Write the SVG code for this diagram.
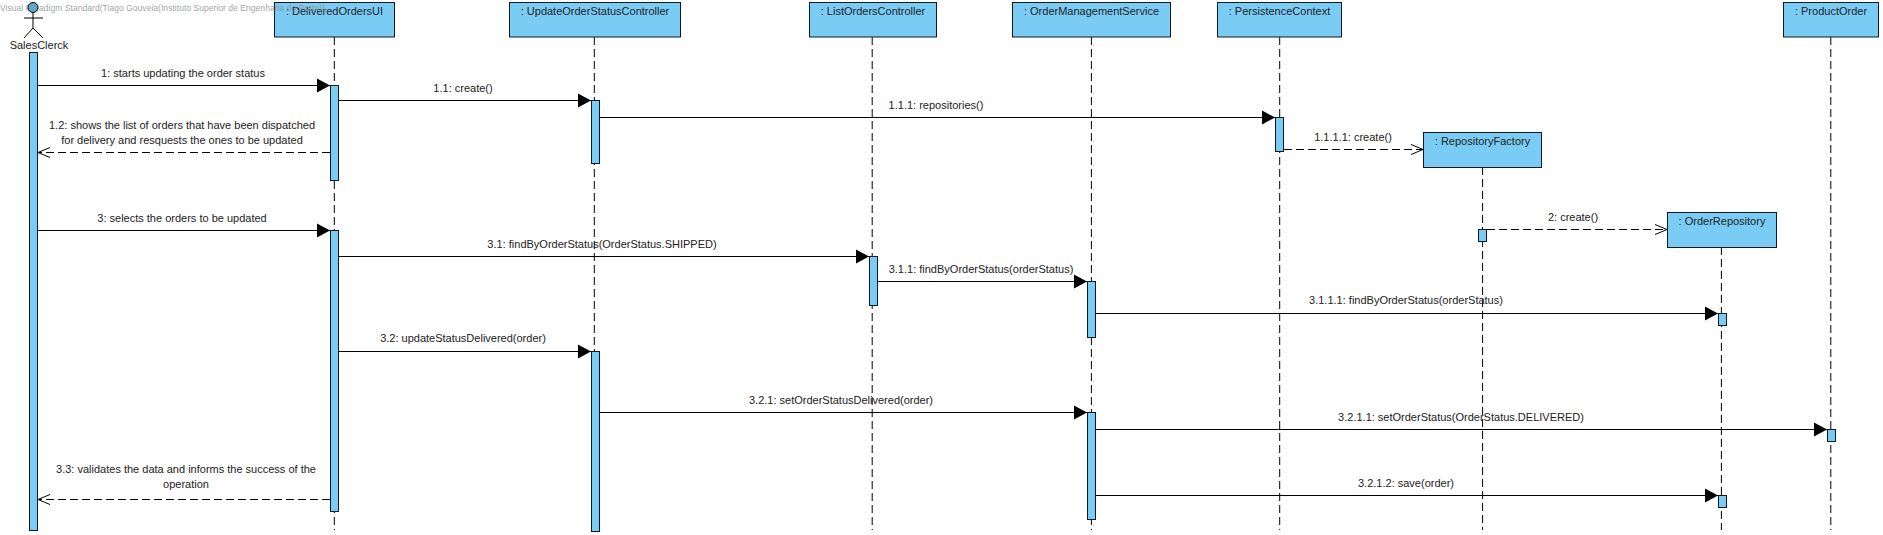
<svg xmlns="http://www.w3.org/2000/svg" width="1883" height="535" viewBox="0 0 1883 535">
<defs>
<marker id="filled" markerUnits="userSpaceOnUse" markerWidth="15" markerHeight="15" refX="13" refY="7.5" orient="auto"><path d="M0 0.5L13 7.5L0 14.5Z" fill="#000"/></marker>
<marker id="open" markerUnits="userSpaceOnUse" markerWidth="14" markerHeight="14" refX="13" refY="7" orient="auto"><path d="M1 2L13 7L1 12" fill="none" stroke="#000"/></marker>
</defs>
<style>
text{font-family:"Liberation Sans",Arial,sans-serif;font-size:11px;fill:#222;text-anchor:middle}
.wm{font-size:8.6px;fill:#8a8a8a;text-anchor:start;fill-opacity:.8}
.box,.act{fill:#7accf5;stroke:#0c1a22;stroke-width:1}
.life{stroke:#000;stroke-width:1;stroke-dasharray:8 4;fill:none}
.msg{stroke:#000;stroke-width:1;fill:none;marker-end:url(#filled)}
.ret{stroke:#000;stroke-width:1;stroke-dasharray:8 4;fill:none;marker-end:url(#open)}
.actor{stroke:#000;stroke-width:1;fill:none}
</style>
<rect width="1883" height="535" fill="#fff"/>
<g id="lifelines">
<path class="life" d="M334.3 37V530"/>
<path class="life" d="M594.3 37V530"/>
<path class="life" d="M872.2 37V530"/>
<path class="life" d="M1091.4 37V530"/>
<path class="life" d="M1279.7 37V530"/>
<path class="life" d="M1482.6 167V530"/>
<path class="life" d="M1721.4 247V530"/>
<path class="life" d="M1830.8 37V530"/>
</g>
<g id="node-deliveredordersui">
<rect class="box" x="274.5" y="2.5" width="120" height="34.5"/>
<text x="334.5" y="14.5">: DeliveredOrdersUI</text>
<rect class="act" x="330.5" y="85.5" width="8" height="95"/>
<rect class="act" x="330.5" y="230.5" width="8" height="281"/>
</g>
<text class="wm" x="0" y="10.5">Visual Paradigm Standard(Tiago Gouveia(Instituto Superior de Engenharia do Porto))</text>
<g id="actor-salesclerck">
<circle cx="33" cy="7.5" r="5" fill="#5fa9c4" stroke="#000"/>
<path class="actor" d="M33 12.5V28M24 18H43M24 38L33 28L43 38"/>
<text x="39" y="49">SalesClerck</text>
<rect class="act" x="29.5" y="52.5" width="8" height="478"/>
</g>
<g id="node-updateorderstatuscontroller">
<rect class="box" x="509.5" y="2.5" width="171" height="34.5"/>
<text x="595" y="14.5">: UpdateOrderStatusController</text>
<rect class="act" x="591.5" y="100.5" width="8" height="63"/>
<rect class="act" x="591.5" y="351.5" width="8" height="180"/>
</g>
<g id="node-listorderscontroller">
<rect class="box" x="809.5" y="2.5" width="127" height="34.5"/>
<text x="873" y="14.5">: ListOrdersController</text>
<rect class="act" x="869.5" y="256.5" width="8" height="49"/>
</g>
<g id="node-ordermanagementservice">
<rect class="box" x="1012.5" y="2.5" width="158" height="34.5"/>
<text x="1091.5" y="14.5">: OrderManagementService</text>
<rect class="act" x="1087.5" y="281.5" width="8" height="56"/>
<rect class="act" x="1087.5" y="412.5" width="8" height="107"/>
</g>
<g id="node-persistencecontext">
<rect class="box" x="1217.5" y="2.5" width="124" height="34.5"/>
<text x="1279.5" y="14.5">: PersistenceContext</text>
<rect class="act" x="1275.5" y="117.5" width="8" height="34"/>
</g>
<g id="node-repositoryfactory">
<rect class="box" x="1423.5" y="132.5" width="118" height="35"/>
<text x="1482.5" y="144.5">: RepositoryFactory</text>
<rect class="act" x="1478.5" y="229.5" width="8" height="12"/>
</g>
<g id="node-orderrepository">
<rect class="box" x="1667.5" y="212.5" width="109" height="35"/>
<text x="1722" y="224.5">: OrderRepository</text>
<rect class="act" x="1718.5" y="313.5" width="8" height="12"/>
<rect class="act" x="1718.5" y="495.5" width="8" height="12"/>
</g>
<g id="node-productorder">
<rect class="box" x="1783.5" y="2.5" width="95" height="34.5"/>
<text x="1831" y="14.5">: ProductOrder</text>
<rect class="act" x="1827.5" y="429.5" width="8" height="12"/>
</g>
<g id="connectors">
<path class="msg" d="M38 85.5H330"/>
<path class="msg" d="M339 100.5H591"/>
<path class="msg" d="M600 117.5H1275"/>
<path class="ret" d="M1284 149.5H1423"/>
<path class="ret" d="M330 152.5H38"/>
<path class="ret" d="M1487 229.5H1667"/>
<path class="msg" d="M38 230.5H330"/>
<path class="msg" d="M339 256.5H869"/>
<path class="msg" d="M878 281.5H1087"/>
<path class="msg" d="M1096 313.5H1718"/>
<path class="msg" d="M339 351.5H591"/>
<path class="msg" d="M600 412.5H1087"/>
<path class="msg" d="M1096 429.5H1827"/>
<path class="msg" d="M1096 495.5H1718"/>
<path class="ret" d="M330 499.5H38"/>
</g>
<g id="labels">
<text x="183" y="77">1: starts updating the order status</text>
<text x="463" y="92">1.1: create()</text>
<text x="936" y="109">1.1.1: repositories()</text>
<text x="1353" y="141">1.1.1.1: create()</text>
<text x="182" y="129">1.2: shows the list of orders that have been dispatched</text>
<text x="182" y="144">for delivery and resquests the ones to be updated</text>
<text x="1573" y="221">2: create()</text>
<text x="182" y="222">3: selects the orders to be updated</text>
<text x="602" y="248">3.1: findByOrderStatus(OrderStatus.SHIPPED)</text>
<text x="981" y="273">3.1.1: findByOrderStatus(orderStatus)</text>
<text x="1406" y="304">3.1.1.1: findByOrderStatus(orderStatus)</text>
<text x="463" y="342">3.2: updateStatusDelivered(order)</text>
<text x="841" y="404">3.2.1: setOrderStatusDelivered(order)</text>
<text x="1461" y="421">3.2.1.1: setOrderStatus(OrderStatus.DELIVERED)</text>
<text x="1406" y="487">3.2.1.2: save(order)</text>
<text x="186" y="473">3.3: validates the data and informs the success of the</text>
<text x="186" y="488">operation</text>
</g>
</svg>
